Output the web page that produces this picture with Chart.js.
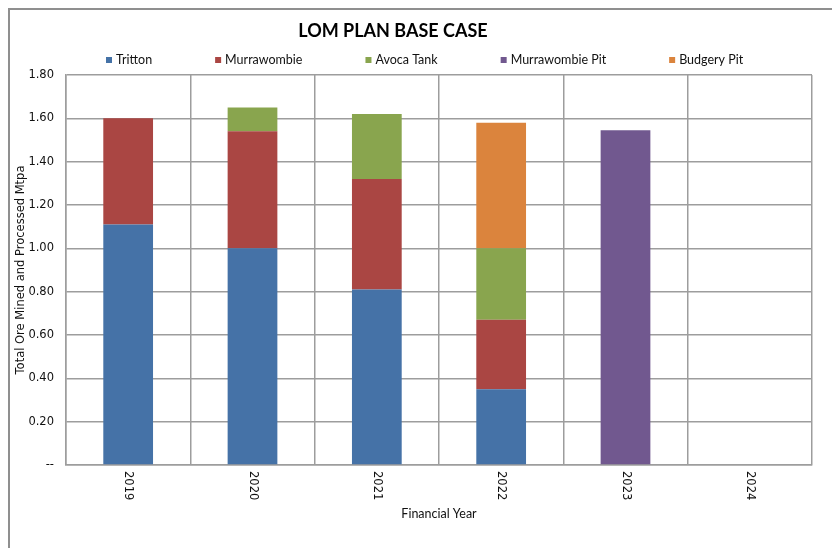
<!DOCTYPE html>
<html>
<head>
<meta charset="utf-8">
<script src="https://cdn.jsdelivr.net/npm/chart.js@4/dist/chart.umd.min.js"></script>
<style>
  html, body { margin: 0; padding: 0; background: #fff; }
  #wrap { position: relative; width: 832px; height: 548px; overflow: hidden; }
  #frame { position: absolute; left: 8px; top: 8px; width: 900px; height: 600px;
           border: 2px solid #8f8f8f; box-sizing: border-box; }
  #c { position: absolute; left: 0; top: 0; }
</style>
</head>
<body>
<div id="wrap">
  <div id="frame"></div>
  <canvas id="c" width="832" height="548"></canvas>
</div>
<script>
// Financial years on the category axis
const years = ['2019', '2020', '2021', '2022', '2023', '2024'];

// Ore mined and processed per source, Mtpa
const tritton        = [1.11, 1.00, 0.81, 0.35, 0, 0];
const murrawombie    = [0.49, 0.54, 0.51, 0.32, 0, 0];
const avocaTank      = [0, 0.11, 0.30, 0.33, 0, 0];
const murrawombiePit = [0, 0, 0, 0, 1.545, 0];
const budgeryPit     = [0, 0, 0, 0.58, 0, 0];

// Value axis range and step
const yMin = 0;
const yMax = 1.8;
const yStep = 0.2;

const chartTitle = 'LOM PLAN BASE CASE';
const xAxisTitle = 'Financial Year';
const yAxisTitle = 'Total Ore Mined and Processed Mtpa';

const CAL = 'Lato, "Open Sans", sans-serif';
const TICK_FONT = '"DejaVu Sans", Verdana, sans-serif';
const GRID = '#9d9d9d';

// Title and legend drawn above the plot
const headerPlugin = {
  id: 'header',
  afterDraw(chart) {
    const ctx = chart.ctx;
    ctx.save();
    ctx.fillStyle = '#000';
    ctx.font = 'bold 18px ' + CAL;
    ctx.textAlign = 'center';
    ctx.textBaseline = 'middle';
    ctx.fillText(chartTitle, 393, 31);

    ctx.font = '12.5px ' + CAL;
    ctx.textAlign = 'left';
    let x = 106;
    const y = 60;
    chart.data.datasets.forEach(ds => {
      ctx.fillStyle = ds.backgroundColor;
      ctx.fillRect(x, y - 3, 6, 6);
      ctx.fillStyle = '#111';
      ctx.fillText(ds.label, x + 10, y);
      x += 10 + ctx.measureText(ds.label).width + 63;
    });
    ctx.restore();
  }
};

// Category labels turned to read top to bottom
const yearLabelsPlugin = {
  id: 'yearLabels',
  afterDraw(chart) {
    const xs = chart.scales.x;
    const ctx = chart.ctx;
    ctx.save();
    ctx.fillStyle = '#111';
    ctx.font = '11.5px ' + TICK_FONT;
    ctx.textAlign = 'left';
    ctx.textBaseline = 'middle';
    years.forEach((yr, i) => {
      const px = xs.getPixelForValue(i);
      ctx.save();
      ctx.translate(px, xs.top + 6);
      ctx.rotate(Math.PI / 2);
      ctx.fillText(yr, 0, 0);
      ctx.restore();
    });
    ctx.restore();
  }
};

new Chart(document.getElementById('c'), {
  type: 'bar',
  data: {
    labels: years,
    datasets: [
      { label: 'Tritton',         data: tritton,        backgroundColor: '#4572A7' },
      { label: 'Murrawombie',     data: murrawombie,    backgroundColor: '#AA4643' },
      { label: 'Avoca Tank',      data: avocaTank,      backgroundColor: '#89A54E' },
      { label: 'Murrawombie Pit', data: murrawombiePit, backgroundColor: '#71588F' },
      { label: 'Budgery Pit',     data: budgeryPit,     backgroundColor: '#DB843D' }
    ]
  },
  options: {
    responsive: false,
    animation: false,
    devicePixelRatio: 1,
    layout: { padding: { left: 0, right: 20, top: 75, bottom: 0 } },
    datasets: { bar: { barPercentage: 0.4, categoryPercentage: 1.0, borderWidth: 0 } },
    plugins: {
      legend: { display: false },
      title: { display: false },
      tooltip: { enabled: false }
    },
    scales: {
      x: {
        stacked: true,
        offset: true,
        grid: { offset: true, color: GRID, lineWidth: 1.5, drawTicks: false },
        border: { color: GRID, width: 1.5 },
        ticks: { display: false },
        title: {
          display: true, text: xAxisTitle, color: '#111',
          font: { family: CAL, size: 12.5 },
          padding: { top: 0, bottom: 27 }
        },
        afterFit(scale) { scale.height = 83; }
      },
      y: {
        stacked: true,
        min: yMin, max: yMax,
        grid: { color: GRID, lineWidth: 1.5, drawTicks: false },
        border: { color: GRID, width: 1.5 },
        ticks: {
          stepSize: yStep,
          padding: 12,
          color: '#111',
          font: { family: TICK_FONT, size: 11.5 },
          callback: v => (Math.abs(v) < 1e-9 ? '--' : Number(v).toFixed(2))
        },
        title: {
          display: true, text: yAxisTitle, color: '#111',
          font: { family: TICK_FONT, size: 11.5 },
          padding: { top: 14, bottom: 0 }
        },
        afterFit(scale) { scale.width = 66; }
      }
    }
  },
  plugins: [headerPlugin, yearLabelsPlugin]
});
</script>
</body>
</html>
